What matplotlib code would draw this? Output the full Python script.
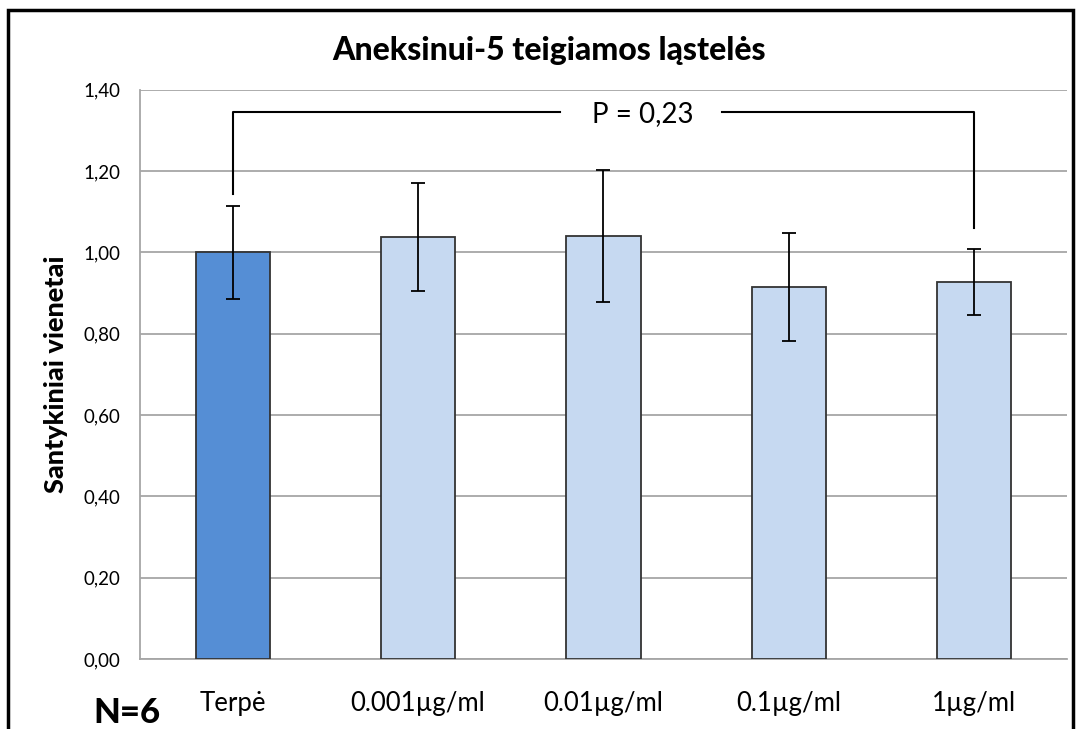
import numpy as np
import matplotlib.pyplot as plt
from matplotlib.patches import Rectangle

plt.rcParams['font.family'] = ['Lato', 'DejaVu Sans']

categories = ['Terpė', '0.001µg/ml', '0.01µg/ml', '0.1µg/ml', '1µg/ml']
values = [1.00, 1.038, 1.04, 0.914, 0.927]
errors = [0.115, 0.133, 0.162, 0.133, 0.081]
colors = ['#558ED5', '#C6D9F1', '#C6D9F1', '#C6D9F1', '#C6D9F1']
yticks = [0.0, 0.2, 0.4, 0.6, 0.8, 1.0, 1.2, 1.4]

p_text = 'P = 0,23'
bracket_y = 1.345
bracket_left_end = 1.144
bracket_right_end = 1.06

fig = plt.figure(figsize=(10.81, 7.29), dpi=100)
ax = fig.add_axes([0.1295, 0.096, 0.8575, 0.781])

x = np.arange(len(categories))
ax.bar(x, values, width=0.4, color=colors, edgecolor='#333333', linewidth=1.3, zorder=3)
ax.errorbar(x, values, yerr=errors, fmt='none', ecolor='black', elinewidth=1.3,
            capsize=5, capthick=1.3, zorder=4)

ax.set_xlim(-0.5, len(categories) - 0.5)
ax.set_ylim(0, 1.4)
ax.set_yticks(yticks)
ax.set_yticklabels(['{:.2f}'.format(v).replace('.', ',') for v in yticks], fontsize=13.5)
ax.set_xticks(x)
ax.set_xticklabels(categories, fontsize=18.5)
ax.tick_params(axis='both', length=0)
ax.tick_params(axis='y', pad=14)
ax.tick_params(axis='x', pad=23)
ax.yaxis.grid(True, color='#a6a6a6', linewidth=1.3, zorder=0)
for side in ['top', 'right']:
    ax.spines[side].set_visible(False)
for side in ['left', 'bottom']:
    ax.spines[side].set_color('#a6a6a6')
    ax.spines[side].set_linewidth(1.3)

ax.set_ylabel('Santykiniai vienetai', fontsize=19.5, fontweight='black', labelpad=11)

# significance bracket between control and highest dose
gap_l, gap_r = 1.765, 2.64
ax.plot([0, 0, gap_l], [bracket_left_end, bracket_y, bracket_y], color='black', lw=1.5, zorder=5)
ax.plot([gap_r, 4, 4], [bracket_y, bracket_y, bracket_right_end], color='black', lw=1.5, zorder=5)
ax.text(2.21, bracket_y - 0.005, p_text, ha='center', va='center', fontsize=20, zorder=6)

fig.text(0.508, 0.931, 'Aneksinui-5 teigiamos ląstelės', ha='center', va='center',
         fontsize=23, fontweight='black')
fig.text(0.117, 0.022, 'N=6', ha='center', va='center', fontsize=25, fontweight='black')

# outer chart frame (runs off the bottom edge)
fig.patches.append(Rectangle((8 / 1081, -0.05), 1065 / 1081, 1.05 - 10 / 729,
                             transform=fig.transFigure, fill=False,
                             edgecolor='black', linewidth=2.5))

fig.savefig('out.png', dpi=100)
